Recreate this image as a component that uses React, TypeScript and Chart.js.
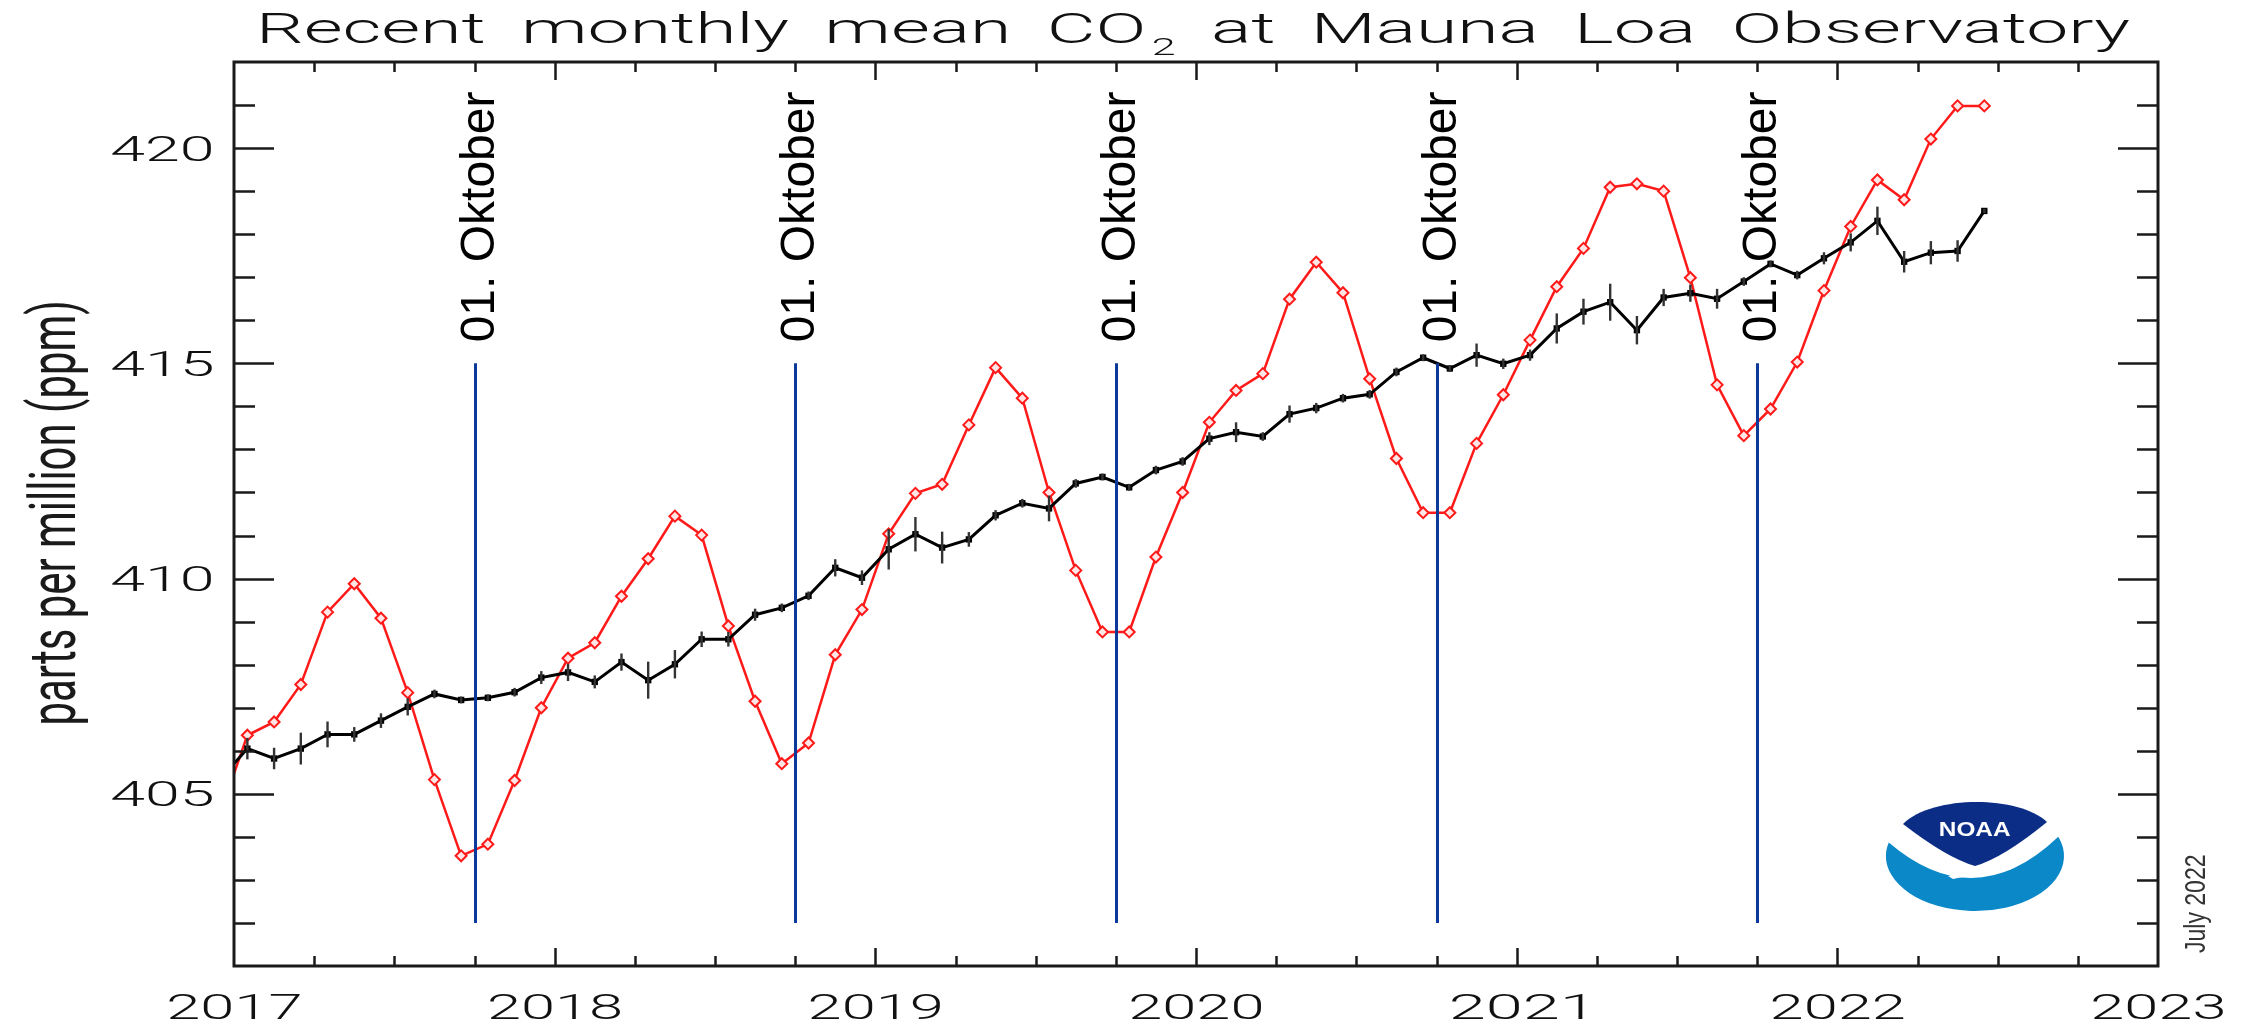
import React, { useEffect, useRef } from "react";
import { Chart, registerables } from "chart.js";

Chart.register(...registerables);

// ---------- data ----------
const monthLabels: string[] = [
  "2016-12",
  "2017-01", "2017-02", "2017-03", "2017-04", "2017-05", "2017-06", "2017-07", "2017-08", "2017-09", "2017-10", "2017-11", "2017-12",
  "2018-01", "2018-02", "2018-03", "2018-04", "2018-05", "2018-06", "2018-07", "2018-08", "2018-09", "2018-10", "2018-11", "2018-12",
  "2019-01", "2019-02", "2019-03", "2019-04", "2019-05", "2019-06", "2019-07", "2019-08", "2019-09", "2019-10", "2019-11", "2019-12",
  "2020-01", "2020-02", "2020-03", "2020-04", "2020-05", "2020-06", "2020-07", "2020-08", "2020-09", "2020-10", "2020-11", "2020-12",
  "2021-01", "2021-02", "2021-03", "2021-04", "2021-05", "2021-06", "2021-07", "2021-08", "2021-09", "2021-10", "2021-11", "2021-12",
  "2022-01", "2022-02", "2022-03", "2022-04", "2022-05", "2022-06",
];

// red: monthly mean (ppm)
const monthlyMean: number[] = [
  404.57,
  406.36, 406.67, 407.54, 409.22, 409.88, 409.08, 407.35, 405.33, 403.56, 403.83, 405.31, 407.0,
  408.15, 408.51, 409.59, 410.46, 411.45, 411.01, 408.9, 407.15, 405.7, 406.18, 408.23, 409.28,
  411.04, 411.98, 412.19, 413.57, 414.9, 414.19, 412.0, 410.19, 408.76, 408.76, 410.5, 412.0,
  413.63, 414.37, 414.76, 416.49, 417.35, 416.64, 414.64, 412.79, 411.53, 411.53, 413.14, 414.27,
  415.54, 416.78, 417.67, 419.09, 419.17, 419.0, 416.99, 414.5, 413.32, 413.94, 415.03, 416.69,
  418.18, 419.26, 418.8, 420.21, 420.98, 420.98,
];

// black: seasonally corrected (ppm)
const seasonallyCorrected: number[] = [
  405.35,
  406.05, 405.82, 406.05, 406.38, 406.38, 406.7, 407.02, 407.32, 407.18, 407.23, 407.36, 407.7,
  407.82, 407.6, 408.06, 407.64, 408.01, 408.59, 408.59, 409.16, 409.32, 409.6, 410.25, 410.02,
  410.68, 411.03, 410.72, 410.91, 411.47, 411.75, 411.63, 412.21, 412.36, 412.12, 412.52, 412.72,
  413.25, 413.4, 413.3, 413.82, 413.96, 414.19, 414.28, 414.8, 415.13, 414.88, 415.19, 414.99,
  415.19, 415.81, 416.2, 416.42, 415.77, 416.53, 416.63, 416.5, 416.9, 417.31, 417.05, 417.44,
  417.81, 418.31, 417.36, 417.57, 417.61, 418.54,
];

// half-length of the error bars on the black series (ppm)
const uncertainty: number[] = [
  0.1,
  0.25, 0.25, 0.37, 0.3, 0.17, 0.17, 0.2, 0.1, 0.08, 0.08, 0.1, 0.15,
  0.2, 0.15, 0.2, 0.43, 0.33, 0.18, 0.17, 0.14, 0.1, 0.1, 0.2, 0.17,
  0.47, 0.4, 0.37, 0.17, 0.12, 0.1, 0.3, 0.1, 0.08, 0.08, 0.1, 0.1,
  0.15, 0.23, 0.1, 0.2, 0.12, 0.1, 0.1, 0.1, 0.08, 0.08, 0.27, 0.12,
  0.13, 0.35, 0.3, 0.43, 0.33, 0.2, 0.2, 0.23, 0.1, 0.08, 0.1, 0.14,
  0.21, 0.33, 0.25, 0.27, 0.25, 0.05,
];

const xTickLabels: string[] = ["2017", "2018", "2019", "2020", "2021", "2022", "2023"];
const yTickLabels: string[] = ["405", "410", "415", "420"];
const octoberDates: string[] = ["2017-10-01", "2018-10-01", "2019-10-01", "2020-10-01", "2021-10-01"];
const octoberLabel = "01. Oktober";
const octoberLineRange: number[] = [402, 415];
const titleBefore = "Recent monthly mean CO";
const titleSub = "2";
const titleAfter = " at Mauna Loa Observatory";
const yAxisTitle = "parts per million (ppm)";
const dateStamp = "July 2022";

const X_MIN = 2017;
const X_MAX = 2023;
const Y_MIN = 401;
const Y_MAX = 422;

// ---------- helpers ----------
const monthToYear = (m: string) => {
  const [y, mo] = m.split("-").map(Number);
  return y + (mo - 0.5) / 12;
};
const dateToYear = (d: string) => {
  const [y, mo, day] = d.split("-").map(Number);
  return y + (mo - 1) / 12 + (day - 1) / 365;
};

const HERSHEY = "300 42px Roboto, 'Liberation Sans', sans-serif";
const HERSHEY_SUB = "300 24px Roboto, 'Liberation Sans', sans-serif";
const HERSHEY_NUM = "300 35px Roboto, 'Liberation Sans', sans-serif";

// draw text so its ink spans exactly [x0, x0+width] horizontally
function fitText(ctx: CanvasRenderingContext2D, text: string, x0: number, baseline: number, font: string, width: number, color = "#111") {
  ctx.save();
  ctx.font = font;
  ctx.textAlign = "left";
  ctx.textBaseline = "alphabetic";
  const m = ctx.measureText(text);
  const ink = m.actualBoundingBoxLeft + m.actualBoundingBoxRight;
  const s = width / ink;
  ctx.translate(x0, baseline);
  ctx.scale(s, 1);
  ctx.fillStyle = color;
  ctx.fillText(text, m.actualBoundingBoxLeft, 0);
  ctx.restore();
}

// rotated (-90deg) text, ink centred at centerY along the text, baseline at screen x = baseX
function fitTextRot(ctx: CanvasRenderingContext2D, text: string, baseX: number, centerY: number, font: string, length: number, color = "#111") {
  ctx.save();
  ctx.font = font;
  ctx.textAlign = "left";
  ctx.textBaseline = "alphabetic";
  const m = ctx.measureText(text);
  const ink = m.actualBoundingBoxLeft + m.actualBoundingBoxRight;
  const s = length / ink;
  ctx.translate(baseX, centerY);
  ctx.rotate(-Math.PI / 2);
  ctx.scale(s, 1);
  ctx.fillStyle = color;
  ctx.fillText(text, (m.actualBoundingBoxLeft - m.actualBoundingBoxRight) / 2, 0);
  ctx.restore();
}

// title in a wide, Hershey-like layout: uniform horizontal stretch, wide word spaces
function drawTitle(ctx: CanvasRenderingContext2D, x0: number, x1: number, baseline: number) {
  type Item = { t: string; sub?: boolean };
  const items: Item[] = [];
  const pushWords = (s: string) => {
    s.split(/( )/).forEach((w) => {
      if (w !== "") items.push({ t: w });
    });
  };
  pushWords(titleBefore);
  items.push({ t: titleSub, sub: true });
  pushWords(titleAfter);
  ctx.save();
  const widths = items.map((it) => {
    if (it.t === " ") return 42 * 0.47;
    ctx.font = it.sub ? HERSHEY_SUB : HERSHEY;
    return ctx.measureText(it.t).width + (it.sub ? 3 : 0);
  });
  const total = widths.reduce((a, b) => a + b, 0);
  const s = (x1 - x0) / total;
  let x = x0;
  ctx.fillStyle = "#111";
  ctx.textAlign = "left";
  ctx.textBaseline = "alphabetic";
  items.forEach((it, i) => {
    if (it.t !== " ") {
      ctx.save();
      ctx.font = it.sub ? HERSHEY_SUB : HERSHEY;
      ctx.translate(x + (it.sub ? 3 * s : 0), it.sub ? baseline + 12 : baseline);
      ctx.scale(s, 1);
      ctx.fillText(it.t, 0, 0);
      ctx.restore();
    }
    x += widths[i] * s;
  });
  ctx.restore();
}

function drawNoaaLogo(ctx: CanvasRenderingContext2D) {
  ctx.save();
  const cx = 1975, cy = 856;
  // light blue lower part
  ctx.fillStyle = "#0a88c8";
  ctx.beginPath();
  ctx.ellipse(cx, cy, 89, 55, 0, -0.35, Math.PI + 0.25, false);
  ctx.quadraticCurveTo(1975, 916, 2058, 837);
  ctx.closePath();
  ctx.fill();
  // dark blue upper lens
  ctx.fillStyle = "#0b2d86";
  ctx.beginPath();
  ctx.moveTo(1903, 824);
  ctx.bezierCurveTo(1932, 795, 2018, 795, 2047, 822);
  ctx.quadraticCurveTo(2003, 858, 1975, 866);
  ctx.quadraticCurveTo(1947, 858, 1903, 824);
  ctx.closePath();
  ctx.fill();
  // white wing tip
  ctx.fillStyle = "#ffffff";
  ctx.beginPath();
  ctx.moveTo(1948, 876);
  ctx.quadraticCurveTo(1990, 866, 2014, 867);
  ctx.lineTo(2010, 870);
  ctx.quadraticCurveTo(1985, 872, 1953, 879);
  ctx.closePath();
  ctx.fill();
  ctx.restore();
  fitText(ctx, "NOAA", 1940, 836, "bold 20px 'Liberation Sans', sans-serif", 70, "#ffffff");
}

const decorPlugin = {
  id: "decor",
  beforeDraw(chart: any) {
    const ctx: CanvasRenderingContext2D = chart.ctx;
    ctx.save();
    ctx.fillStyle = "#ffffff";
    ctx.fillRect(0, 0, chart.width, chart.height);
    ctx.restore();
  },
  afterDatasetsDraw(chart: any) {
    const ctx: CanvasRenderingContext2D = chart.ctx;
    const xs = chart.scales.x;
    const ys = chart.scales.y;
    // error bars
    ctx.save();
    ctx.strokeStyle = "#333333";
    ctx.lineWidth = 2.4;
    monthLabels.forEach((m, i) => {
      const xv = monthToYear(m);
      if (xv < X_MIN || xv > X_MAX) return;
      const px = xs.getPixelForValue(xv);
      ctx.beginPath();
      ctx.moveTo(px, ys.getPixelForValue(seasonallyCorrected[i] - uncertainty[i]));
      ctx.lineTo(px, ys.getPixelForValue(seasonallyCorrected[i] + uncertainty[i]));
      ctx.stroke();
    });
    ctx.restore();
    // October lines and labels
    ctx.save();
    ctx.strokeStyle = "#0b3a9a";
    ctx.lineWidth = 3;
    octoberDates.forEach((d) => {
      const px = Math.round(xs.getPixelForValue(dateToYear(d))) + 0.5;
      const yTop = ys.getPixelForValue(octoberLineRange[1]);
      ctx.beginPath();
      ctx.moveTo(px, ys.getPixelForValue(octoberLineRange[0]));
      ctx.lineTo(px, yTop);
      ctx.stroke();
      ctx.save();
      ctx.translate(px + 18, yTop - 21);
      ctx.rotate(-Math.PI / 2);
      ctx.font = "48px 'Liberation Sans', Arial, sans-serif";
      ctx.fillStyle = "#000000";
      ctx.textAlign = "left";
      ctx.textBaseline = "alphabetic";
      ctx.fillText(octoberLabel, 0, 0);
      ctx.restore();
    });
    ctx.restore();
  },
  afterDraw(chart: any) {
    const ctx: CanvasRenderingContext2D = chart.ctx;
    const xs = chart.scales.x;
    const ys = chart.scales.y;
    const a = chart.chartArea;
    ctx.save();
    ctx.strokeStyle = "#1a1a1a";
    // ticks
    ctx.lineWidth = 2.5;
    for (let q = 1; q < (X_MAX - X_MIN) * 4; q++) {
      const v = X_MIN + q / 4;
      const px = Math.round(xs.getPixelForValue(v)) + 0.5;
      const len = q % 4 === 0 ? 18 : 10;
      ctx.beginPath();
      ctx.moveTo(px, a.bottom);
      ctx.lineTo(px, a.bottom - len);
      ctx.moveTo(px, a.top);
      ctx.lineTo(px, a.top + len);
      ctx.stroke();
    }
    for (let v = Y_MIN + 1; v < Y_MAX; v++) {
      const py = Math.round(ys.getPixelForValue(v)) + 0.5;
      const len = v % 5 === 0 ? 40 : 21;
      ctx.beginPath();
      ctx.moveTo(a.left, py);
      ctx.lineTo(a.left + len, py);
      ctx.moveTo(a.right, py);
      ctx.lineTo(a.right - len, py);
      ctx.stroke();
    }
    // frame
    ctx.lineWidth = 3;
    ctx.strokeRect(a.left, a.top, a.right - a.left, a.bottom - a.top);
    ctx.restore();

    // tick labels
    xTickLabels.forEach((t) => {
      const px = xs.getPixelForValue(Number(t));
      const w = 33 * t.length;
      fitText(ctx, t, px - w / 2, 1019, HERSHEY_NUM, w);
    });
    yTickLabels.forEach((t) => {
      const py = ys.getPixelForValue(Number(t));
      const w = 33 * t.length + 1;
      fitText(ctx, t, a.left - 22 - w, py + 12.5, HERSHEY_NUM, w);
    });

    // title
    drawTitle(ctx, 256, 2130, 43);

    // axis title
    fitTextRot(ctx, yAxisTitle, 75, 513, "64px Roboto, 'Liberation Sans', sans-serif", 420, "#1a1a1a");
    // date stamp
    fitTextRot(ctx, dateStamp, 2205, 904, "30px 'Liberation Sans', sans-serif", 98, "#333333");

    drawNoaaLogo(ctx);
  },
};

export default function App() {
  const canvasRef = useRef<HTMLCanvasElement | null>(null);

  useEffect(() => {
    const canvas = canvasRef.current;
    if (!canvas) return;
    const xVals = monthLabels.map(monthToYear);
    const chart = new Chart(canvas, {
      type: "line",
      data: {
        datasets: [
          {
            label: "seasonally corrected",
            data: xVals.map((x, i) => ({ x, y: seasonallyCorrected[i] })),
            borderColor: "#000000",
            backgroundColor: "#000000",
            borderWidth: 3,
            pointStyle: "rect",
            pointRadius: 4.5,
            pointBorderWidth: 0,
            pointBackgroundColor: "#000000",
            tension: 0,
          },
          {
            label: "monthly mean",
            data: xVals.map((x, i) => ({ x, y: monthlyMean[i] })),
            borderColor: "#ff1a1a",
            backgroundColor: "#ffffff",
            borderWidth: 2.5,
            pointStyle: "rectRot",
            pointRadius: 5.5,
            pointBorderWidth: 2,
            pointBorderColor: "#ff1a1a",
            pointBackgroundColor: "#ffe6e6",
            tension: 0,
          },
        ],
      },
      options: {
        responsive: false,
        maintainAspectRatio: false,
        animation: false,
        devicePixelRatio: 1,
        layout: { padding: { left: 234, right: 95, top: 62, bottom: 58 } },
        plugins: {
          legend: { display: false },
          tooltip: { enabled: false },
          title: { display: false },
        },
        scales: {
          x: { type: "linear", min: X_MIN, max: X_MAX, display: false },
          y: { type: "linear", min: Y_MIN, max: Y_MAX, display: false },
        },
      },
      plugins: [decorPlugin],
    });
    return () => chart.destroy();
  }, []);

  return (
    <div style={{ position: "fixed", left: 0, top: 0, width: 2253, height: 1024, background: "#ffffff" }}>
      <canvas ref={canvasRef} width={2253} height={1024} style={{ width: 2253, height: 1024, display: "block" }} />
    </div>
  );
}
